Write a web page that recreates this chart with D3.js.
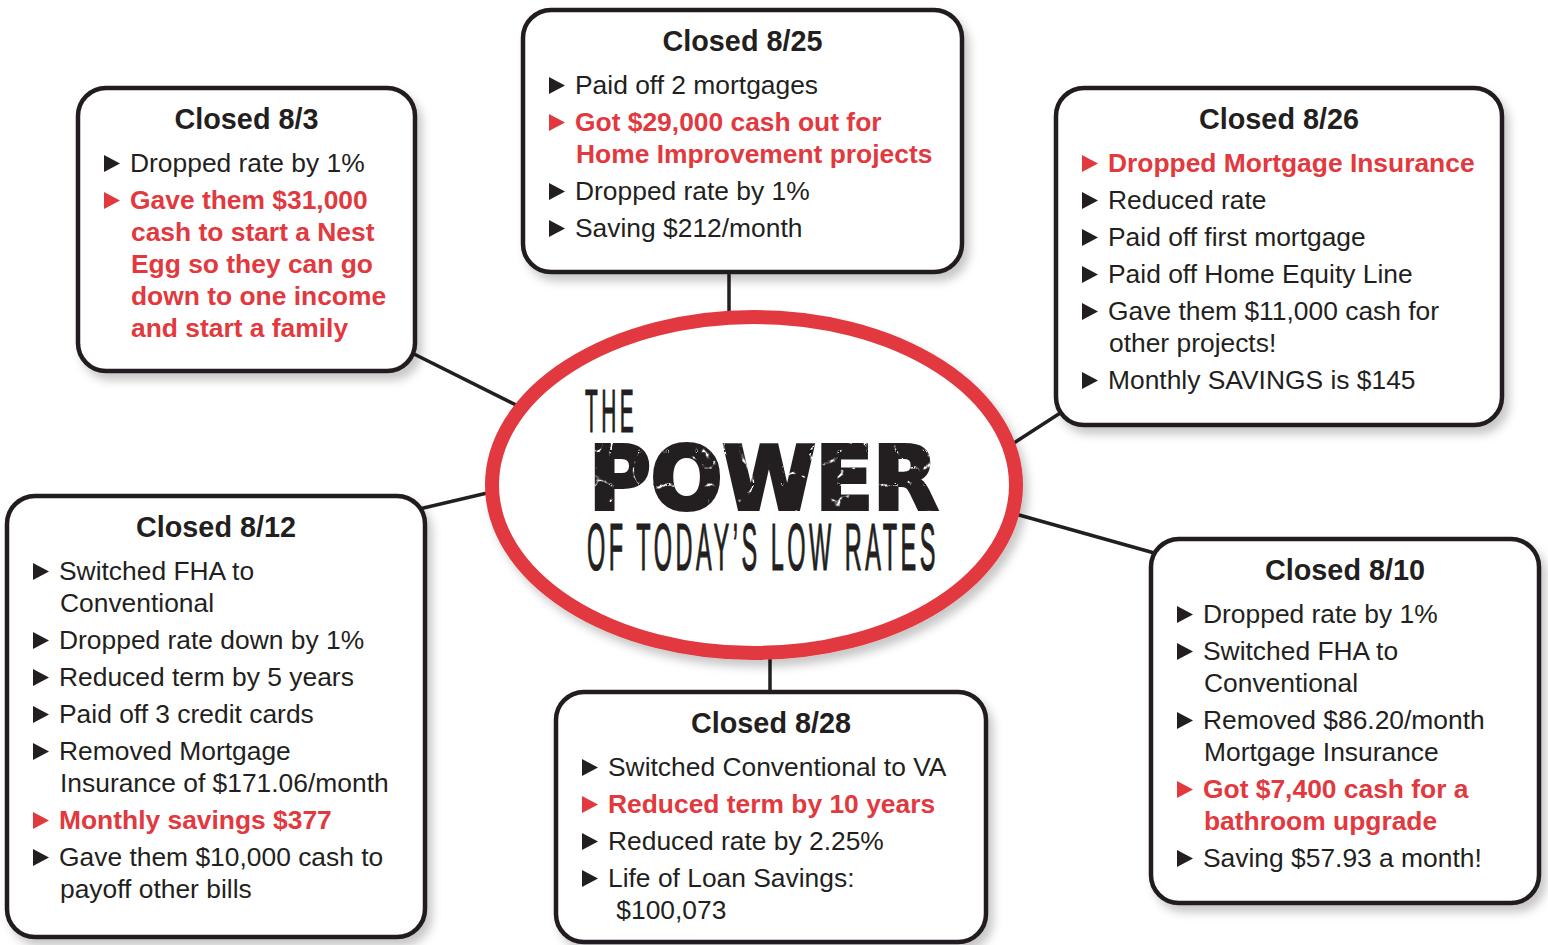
<!DOCTYPE html>
<meta charset="utf-8">
<style>
 body { margin: 0; background: #fff; }
 svg { display: block; }
 .title { font-family: "Liberation Sans", Arial, Helvetica, sans-serif; font-weight: bold; font-size: 28.8px; fill: #231f20; }
 .item { font-family: "Liberation Sans", Arial, Helvetica, sans-serif; font-size: 26.4px; fill: #231f20; }
 .item.hi { font-weight: bold; fill: #e2393f; }
</style>
<body>
<script src="https://cdn.jsdelivr.net/npm/d3@7"></script>
<script>

 // box headings
 var titles = ["Closed 8/3", "Closed 8/25", "Closed 8/26", "Closed 8/12", "Closed 8/28", "Closed 8/10"];

 // bullet items for each box: text lines, and whether it is highlighted in red
 var items83 = [
     {lines: ["Dropped rate by 1%"], hi: false},
     {lines: ["Gave them $31,000", "cash to start a Nest", "Egg so they can go", "down to one income", "and start a family"], hi: true}
 ];
 var items825 = [
     {lines: ["Paid off 2 mortgages"], hi: false},
     {lines: ["Got $29,000 cash out for", "Home Improvement projects"], hi: true},
     {lines: ["Dropped rate by 1%"], hi: false},
     {lines: ["Saving $212/month"], hi: false}
 ];
 var items826 = [
     {lines: ["Dropped Mortgage Insurance"], hi: true},
     {lines: ["Reduced rate"], hi: false},
     {lines: ["Paid off first mortgage"], hi: false},
     {lines: ["Paid off Home Equity Line"], hi: false},
     {lines: ["Gave them $11,000 cash for", "other projects!"], hi: false},
     {lines: ["Monthly SAVINGS is $145"], hi: false}
 ];
 var items812 = [
     {lines: ["Switched FHA to", "Conventional"], hi: false},
     {lines: ["Dropped rate down by 1%"], hi: false},
     {lines: ["Reduced term by 5 years"], hi: false},
     {lines: ["Paid off 3 credit cards"], hi: false},
     {lines: ["Removed Mortgage", "Insurance of $171.06/month"], hi: false},
     {lines: ["Monthly savings $377"], hi: true},
     {lines: ["Gave them $10,000 cash to", "payoff other bills"], hi: false}
 ];
 var items828 = [
     {lines: ["Switched Conventional to VA"], hi: false},
     {lines: ["Reduced term by 10 years"], hi: true},
     {lines: ["Reduced rate by 2.25%"], hi: false},
     {lines: ["Life of Loan Savings:", " $100,073"], hi: false}
 ];
 var items810 = [
     {lines: ["Dropped rate by 1%"], hi: false},
     {lines: ["Switched FHA to", "Conventional"], hi: false},
     {lines: ["Removed $86.20/month", "Mortgage Insurance"], hi: false},
     {lines: ["Got $7,400 cash for a", "bathroom upgrade"], hi: true},
     {lines: ["Saving $57.93 a month!"], hi: false}
 ];
 var itemLists = [items83, items825, items826, items812, items828, items810];

 // center badge text
 var badgeTop = "THE";
 var badgeMid = "POWER";
 var badgeBottom = "OF TODAY\u2019S LOW RATES";

 // layout (not data): box frames and connector ends
 var boxLayout = [
     {x: 78,   y: 88,  w: 337, h: 283, link: [400, 347, 530, 412]},
     {x: 523,  y: 10,  w: 439, h: 262, link: [729, 262, 729, 325]},
     {x: 1056, y: 88,  w: 446, h: 337, link: [1068, 408, 1000, 452]},
     {x: 7,    y: 496, w: 418, h: 441, link: [415, 510, 500, 490]},
     {x: 556,  y: 692, w: 430, h: 250, link: [770, 640, 770, 700]},
     {x: 1151, y: 539, w: 388, h: 364, link: [1005, 511, 1165, 556]}
 ];

 var width = 1548, height = 945;
 var red = "#e2393f", ink = "#231f20";

 var svg = d3.select("body").append("svg")
             .attr("width", width)
             .attr("height", height);

 var defs = svg.append("defs");

 var shadow = defs.append("filter")
                  .attr("id", "shadow")
                  .attr("x", "-10%").attr("y", "-10%")
                  .attr("width", "130%").attr("height", "130%");
 shadow.append("feDropShadow")
       .attr("dx", 5).attr("dy", 7)
       .attr("stdDeviation", 5)
       .attr("flood-color", "#000")
       .attr("flood-opacity", 0.22);

 // cracked look for POWER: thin white veins from turbulence noise
 var crack = defs.append("filter")
                 .attr("id", "crack")
                 .attr("color-interpolation-filters", "sRGB")
                 .attr("x", "-2%").attr("y", "-5%").attr("width", "104%").attr("height", "110%");
 crack.append("feTurbulence")
      .attr("type", "turbulence")
      .attr("baseFrequency", "0.035 0.03")
      .attr("numOctaves", 3)
      .attr("seed", 11)
      .attr("result", "noise");
 crack.append("feColorMatrix")
      .attr("in", "noise")
      .attr("type", "matrix")
      .attr("values", "0 0 0 0 1  0 0 0 0 1  0 0 0 0 1  1 0 0 0 0")
      .attr("result", "na");
 crack.append("feComponentTransfer")
      .attr("in", "na")
      .attr("result", "veins")
      .append("feFuncA")
      .attr("type", "table")
      .attr("tableValues", "1 1 0.3 0 0 0 0 0 0 0 0 0 0 0 0 0 0 0 0 0 0 0 0 0 0 0 0 0");
 crack.append("feComposite")
      .attr("in", "veins").attr("in2", "SourceAlpha")
      .attr("operator", "in")
      .attr("result", "cut");
 var merge = crack.append("feMerge");
 merge.append("feMergeNode").attr("in", "SourceGraphic");
 merge.append("feMergeNode").attr("in", "cut");

 // connectors go underneath everything
 svg.append("g")
    .selectAll("line")
    .data(boxLayout)
    .enter()
    .append("line")
    .attr("x1", d => d.link[0]).attr("y1", d => d.link[1])
    .attr("x2", d => d.link[2]).attr("y2", d => d.link[3])
    .attr("stroke", ink)
    .attr("stroke-width", 3.5);

 // boxes
 var boxes = svg.append("g")
                .selectAll("g")
                .data(titles.map(function(t, i) { return {title: t, items: itemLists[i], pos: boxLayout[i]}; }))
                .enter()
                .append("g")
                .attr("transform", d => "translate(" + d.pos.x + "," + d.pos.y + ")");

 boxes.append("rect")
      .attr("width", d => d.pos.w)
      .attr("height", d => d.pos.h)
      .attr("rx", 28).attr("ry", 28)
      .attr("fill", "#fff")
      .attr("stroke", ink)
      .attr("stroke-width", 4.5)
      .attr("filter", "url(#shadow)");

 boxes.append("text")
      .attr("class", "title")
      .attr("x", d => d.pos.w / 2)
      .attr("y", 31)
      .attr("dy", "0.36em")
      .attr("text-anchor", "middle")
      .text(d => d.title);

 var itemGap = 37, lineGap = 32;

 boxes.each(function(d) {
     var g = d3.select(this);
     var y = 75.5;
     d.items.forEach(function(it) {
         g.append("path")
          .attr("d", "M0,-8.5L16,0L0,8.5Z")
          .attr("transform", "translate(26," + y + ")")
          .attr("fill", it.hi ? red : ink);
         var t = g.append("text")
                  .attr("class", it.hi ? "item hi" : "item");
         it.lines.forEach(function(line, j) {
             t.append("tspan")
              .attr("x", j ? 53 : 52)
              .attr("y", y + j * lineGap)
              .attr("dy", "0.34em")
              .attr("xml:space", "preserve")
              .text(line);
         });
         y += (it.lines.length - 1) * lineGap + itemGap;
     });
 });

 // center badge
 var badge = svg.append("g").attr("transform", "translate(754,485)");

 badge.append("ellipse")
      .attr("rx", 262).attr("ry", 168)
      .attr("fill", "#fff")
      .attr("stroke", red)
      .attr("stroke-width", 14)
      .attr("filter", "url(#shadow)");

 badge.append("text")
      .attr("x", -169).attr("y", -53)
      .attr("textLength", 52)
      .attr("lengthAdjust", "spacingAndGlyphs")
      .attr("letter-spacing", 10)
      .attr("font-family", "'Liberation Sans', Arial, sans-serif")
      .attr("font-size", 61)
      .attr("fill", ink)
      .attr("stroke", ink)
      .attr("stroke-width", 1.2)
      .text(badgeTop);

 badge.append("text")
      .attr("x", -165).attr("y", 24)
      .attr("textLength", 349)
      .attr("lengthAdjust", "spacingAndGlyphs")
      .attr("font-family", "'DejaVu Sans', sans-serif")
      .attr("font-weight", "bold")
      .attr("font-size", 87)
      .attr("fill", ink)
      .attr("stroke", ink)
      .attr("stroke-width", 4)
      .attr("stroke-linejoin", "miter")
      .attr("filter", "url(#crack)")
      .text(badgeMid);

 badge.append("text")
      .attr("x", -167).attr("y", 85)
      .attr("textLength", 352)
      .attr("lengthAdjust", "spacingAndGlyphs")
      .attr("letter-spacing", 10)
      .attr("font-family", "'Liberation Sans', Arial, sans-serif")
      .attr("font-size", 67)
      .attr("fill", ink)
      .attr("stroke", ink)
      .attr("stroke-width", 1.2)
      .text(badgeBottom);

</script>
